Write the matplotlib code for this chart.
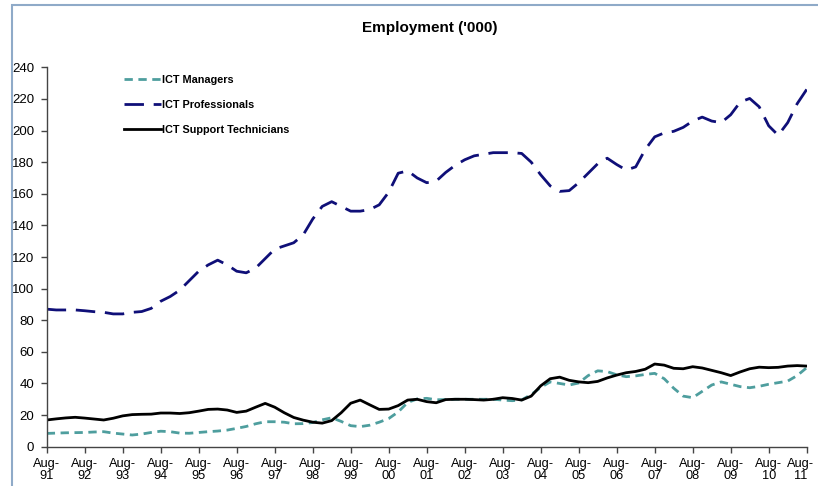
import matplotlib
matplotlib.use("Agg")
import matplotlib.pyplot as plt
from matplotlib.patches import Rectangle
from matplotlib.transforms import ScaledTranslation
import numpy as np

plt.rcParams['font.family'] = ['Liberation Sans', 'DejaVu Sans']

# Quarterly observations, Aug-91 .. Aug-11
years = ['91', '92', '93', '94', '95', '96', '97', '98', '99', '00',
         '01', '02', '03', '04', '05', '06', '07', '08', '09', '10', '11']
tick_labels = ['Aug-\n' + y for y in years]

managers = [8.4, 8.6, 8.8, 8.9, 9.0, 9.3, 9.5, 8.6, 8.0, 7.4,
            8.0, 9.0, 9.8, 9.5, 8.6, 8.5, 9.0, 9.5, 9.9, 10.5,
            11.6, 12.8, 14.5, 15.8, 15.8, 15.5, 14.5, 14.6, 15.3, 17.0,
            18.3, 16.0, 13.3, 12.7, 13.6, 15.5, 17.8, 22.0, 28.0, 30.2,
            30.6, 29.7, 29.8, 30.0, 30.0, 30.0, 30.0, 30.0, 29.5, 29.1,
            29.6, 33.0, 37.5, 41.0, 40.0, 39.0, 40.3, 45.0, 48.0, 47.5,
            45.5, 44.3, 44.8, 45.7, 46.4, 43.0, 37.0, 32.0, 31.0, 35.0,
            39.0, 41.0, 39.5, 38.0, 37.3, 38.2, 39.5, 40.5, 41.5, 45.0,
            50.0]

professionals = [87, 86.5, 86.5, 86.5, 86, 85.4, 85, 84, 84, 85,
                 85.5, 87.5, 92, 95, 99, 105, 111, 115, 118, 115,
                 111, 110, 113, 119, 125, 127, 129, 134, 144, 152,
                 155, 152, 149, 149, 150, 153, 161, 173, 174.5, 170,
                 167, 168, 173.5, 178, 181.5, 184, 185, 186, 186, 186,
                 185.5, 180, 172, 165, 161.5, 162, 167, 173, 179, 182.5,
                 178.5, 175, 177, 188, 196, 198.5, 199.5, 202, 206, 208.5,
                 206, 205, 210, 218, 220.3, 215, 203, 197, 205, 217,
                 226]

technicians = [16.9, 17.6, 18.2, 18.6, 18.1, 17.5, 16.9, 18.0, 19.5, 20.3,
               20.5, 20.6, 21.3, 21.3, 21.0, 21.5, 22.5, 23.6, 23.8, 23.2,
               21.7, 22.5, 25.0, 27.4, 25.0, 21.5, 18.5, 16.8, 15.5, 14.9,
               16.5, 21.5, 27.5, 29.5, 26.5, 23.6, 23.8, 26.0, 29.5, 30.0,
               28.5, 27.8, 29.8, 30.0, 30.0, 29.8, 29.5, 30.0, 31.0, 30.5,
               29.5, 32.0, 38.5, 43.0, 44.0, 42.0, 41.0, 40.5, 41.3, 43.5,
               45.3, 46.8, 47.6, 49.0, 52.3, 51.6, 49.6, 49.3, 50.6, 49.8,
               48.3, 46.8, 45.0, 47.3, 49.3, 50.3, 50.0, 50.2, 51.0, 51.3,
               51.0]

series_names = ['ICT Managers', 'ICT Professionals', 'ICT Support Technicians']

fig = plt.figure(figsize=(8.18, 4.86), dpi=100)
fig.patches.append(Rectangle((12 / 818, -0.1), 1.2, (486 - 5) / 486 + 0.1,
                             transform=fig.transFigure, fill=False,
                             edgecolor='#8FAAC8', linewidth=1.5))
ax = fig.add_axes([46.7 / 818, 1 - 446.7 / 486, 760 / 818, (446.7 - 67.3) / 486])

x = np.arange(len(managers))
ax.plot(x, managers, color='#4E9E9E', lw=2.0, dashes=(3, 2), label=series_names[0])
ax.plot(x, professionals, color='#0F0F78', lw=2.0, dashes=(7, 3.5), label=series_names[1])
ax.plot(x, technicians, color='black', lw=2.0, label=series_names[2])

ax.set_xlim(0, len(managers) - 1)
ax.set_ylim(0, 240)
ax.set_yticks(np.arange(0, 241, 20))
ax.set_xticks(np.arange(0, len(managers), 4))
ax.set_xticklabels(tick_labels, linespacing=1.05)
ax.tick_params(axis='both', labelsize=9.5, length=4, width=1, color='#444444', direction='out')
ax.tick_params(axis='x', pad=4, labelsize=9.2)
ax.tick_params(axis='y', pad=5)
for s in ['top', 'right']:
    ax.spines[s].set_visible(False)
for s in ['left', 'bottom']:
    ax.spines[s].set_color('#444444')
    ax.spines[s].set_linewidth(1)

# nudge the last x label so it stays inside the image
last = ax.get_xticklabels()[-1]
last.set_transform(last.get_transform() + ScaledTranslation(-6 / 100, 0, fig.dpi_scale_trans))

fig.text(430 / 818, 1 - 28 / 486, "Employment ('000)", ha='center', va='center',
         fontsize=11, fontweight='bold')

leg = ax.legend(loc='upper left', bbox_to_anchor=(70 / 760, 1.0), frameon=False,
                prop={'size': 7.8, 'weight': 'bold'}, handlelength=3.4,
                handletextpad=0.1, labelspacing=1.4, borderaxespad=0.3)

fig.savefig('out.png', dpi=100)
